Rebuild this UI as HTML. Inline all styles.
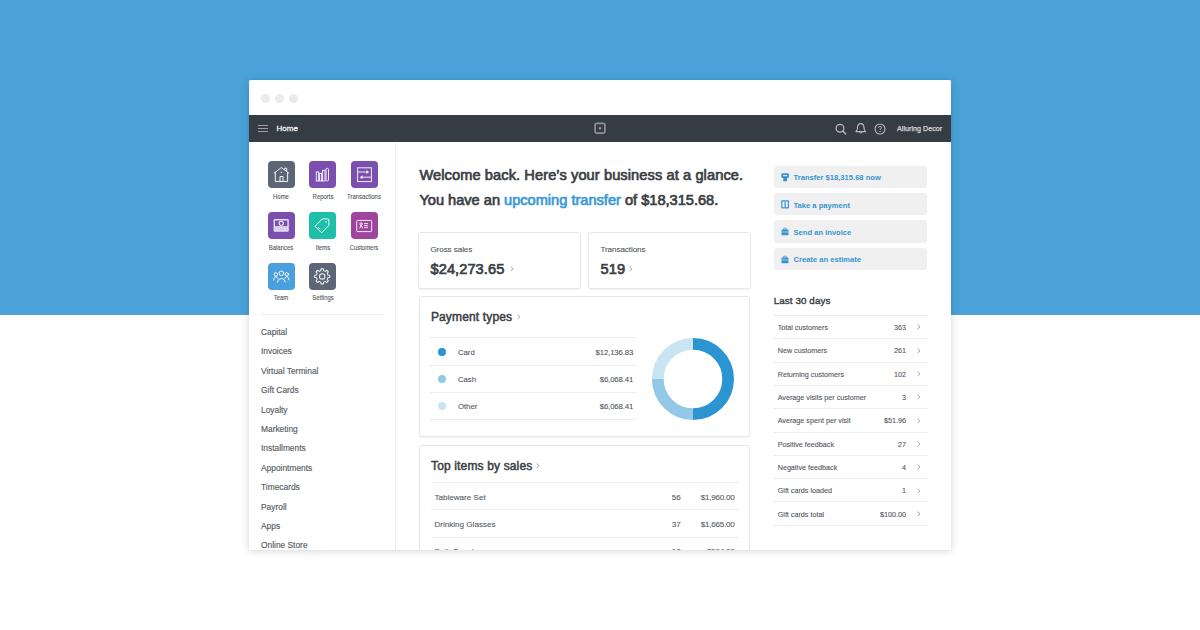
<!DOCTYPE html>
<html><head><meta charset="utf-8">
<style>
*{margin:0;padding:0;box-sizing:border-box}
html,body{width:1200px;height:630px;overflow:hidden;background:#fff;font-family:"Liberation Sans",sans-serif}
.bg{position:absolute;left:0;top:0;width:1200px;height:315px;background:#4aa2d8}
.win{position:absolute;left:249px;top:80px;width:702px;height:470px;background:#fff;overflow:hidden;border-radius:1.5px 1.5px 0 0;box-shadow:0 1px 8px rgba(0,0,0,.16),0 0 1.5px rgba(0,0,0,.06)}
.a{position:absolute;white-space:nowrap}
.dot{position:absolute;top:13.6px;width:9px;height:9px;border-radius:50%;background:#eaebed}
.nav{position:absolute;left:0;top:35px;width:702px;height:27px;background:#363c44}
.tile{position:absolute;width:27px;height:27px;border-radius:4px}
.tile svg{position:absolute;left:0;top:0}
.tl{position:absolute;width:50px;text-align:center;font-size:6.6px;color:#52575e;line-height:1;white-space:nowrap;-webkit-text-stroke:.1px #52575e;transform:scaleX(.9)}
.sl{position:absolute;font-size:8.4px;color:#575c63;line-height:1;white-space:nowrap;-webkit-text-stroke:.15px #575c63}
.h1{font-size:14.6px;font-weight:400;color:#3b3f46;line-height:1;-webkit-text-stroke:.7px #3b3f46;letter-spacing:0px}
.h2{font-size:12px;font-weight:400;color:#3b3f46;line-height:1;-webkit-text-stroke:.5px #3b3f46;letter-spacing:.15px}
.h3{font-size:9.8px;font-weight:400;color:#3b3f46;line-height:1;-webkit-text-stroke:.4px #3b3f46;letter-spacing:.1px}
.card{position:absolute;border:1px solid #e7e7e7;border-radius:3px;background:#fff;box-shadow:0 1px 1.5px rgba(0,0,0,.05)}
.lab{font-size:8.1px;color:#50555c;line-height:1;letter-spacing:-.08px;-webkit-text-stroke:.1px #50555c}
.big{font-size:14.6px;font-weight:400;color:#3b3f46;line-height:1;letter-spacing:.08px;-webkit-text-stroke:.7px #3b3f46}
.hl{position:absolute;height:1px;background:#ececec}
.pt{font-size:7.8px;color:#52575e;line-height:1;-webkit-text-stroke:.1px #52575e}
.it{font-size:8.1px;color:#555a61;line-height:1;-webkit-text-stroke:.1px #555a61}
.btn{position:absolute;width:153px;height:22.4px;background:#f0f0f0;border-radius:3px}
.bt{position:absolute;left:19.5px;font-size:7.6px;font-weight:700;color:#3595d2;line-height:1;white-space:nowrap}
.rl{font-size:7.2px;color:#52565c;line-height:1;-webkit-text-stroke:.1px #52565c}

</style></head><body>
<div class="bg"></div>
<div class="win">
<div class="dot" style="left:12px"></div><div class="dot" style="left:26px"></div><div class="dot" style="left:40px"></div>
<div class="nav">
<div class="a" style="left:9px;top:10px;width:10px;height:1px;background:#9ba0a7"></div>
<div class="a" style="left:9px;top:13px;width:10px;height:1px;background:#9ba0a7"></div>
<div class="a" style="left:9px;top:16px;width:10px;height:1px;background:#9ba0a7"></div>
<div class="a" style="left:27.6px;top:10.1px;font-size:8px;font-weight:400;color:#f2f3f4;line-height:1;-webkit-text-stroke:.3px #f2f3f4">Home</div>
<svg class="a" style="left:345px;top:7px" width="13" height="13" viewBox="0 0 13 13"><rect x="1.1" y="1.35" width="9.8" height="9.8" rx="1.9" fill="none" stroke="#8d9299" stroke-width="1.7"/><rect x="4.8" y="5.05" width="2.4" height="2.4" fill="#8d9299"/></svg>
<svg class="a" style="left:584px;top:7px" width="14" height="14" viewBox="0 0 14 14"><circle cx="7" cy="6.2" r="3.9" fill="none" stroke="#b9bdc2" stroke-width="1.2"/><path d="M9.8 9.1 L12.7 12" stroke="#b9bdc2" stroke-width="1.4" stroke-linecap="round"/></svg>
<svg class="a" style="left:604px;top:7px" width="16" height="14" viewBox="0 0 16 14"><path d="M2.9 9.6 C4 8.6 4.5 7.6 4.5 5.8 C4.5 3.2 5.9 1.6 7.75 1.6 C9.6 1.6 11 3.2 11 5.8 C11 7.6 11.5 8.6 12.6 9.6 Z" fill="none" stroke="#b9bdc2" stroke-width="1.1" stroke-linejoin="round"/><path d="M6.5 10.4 Q7.75 11.8 9 10.4" fill="none" stroke="#b9bdc2" stroke-width="1"/></svg>
<svg class="a" style="left:624px;top:6.5px" width="14" height="14" viewBox="0 0 14 14"><circle cx="7" cy="7" r="5" fill="none" stroke="#b9bdc2" stroke-width="1.1"/><path d="M5.5 5.8 C5.5 4.9 6.2 4.4 7 4.4 C7.8 4.4 8.5 4.9 8.5 5.7 C8.5 6.6 7.1 6.8 7.1 7.9" fill="none" stroke="#b9bdc2" stroke-width="1"/><circle cx="7.05" cy="9.4" r=".6" fill="#b9bdc2"/></svg>
<div class="a" style="left:648px;top:9.9px;font-size:7.2px;color:#d6d9dc;line-height:1;-webkit-text-stroke:.25px #d6d9dc">Alluring Decor</div>
</div>

<div class="tile" style="left:18.8px;top:81.3px;background:#5c6677"><svg width="27" height="27" viewBox="0 0 27 27"><g fill="none" stroke="#fff" stroke-opacity=".92" stroke-width="1" stroke-linejoin="round" stroke-linecap="round"><path d="M6.2 12.1 L13.4 6.5 L20.7 12.1"/><path d="M7.3 11.3 V20.5 H19.6 V11.3"/><path d="M12 20.5 V15.5 H15 V20.5"/><path d="M16.8 8.3 V7.2 H18.6 V9.7"/></g><rect x="12.75" y="10.7" width="1.3" height="1.3" fill="#fff" fill-opacity=".9"/></svg></div><div class="tl" style="left:7.3px;top:114.01px">Home</div><div class="tile" style="left:60.1px;top:81.3px;background:#7a4fae"><svg width="27" height="27" viewBox="0 0 27 27"><g fill="none" stroke="#fff" stroke-opacity=".92" stroke-width=".95"><rect x="7.3" y="10.9" width="2.3" height="9.1"/><rect x="10.6" y="12.3" width="2" height="7.7"/><rect x="13.6" y="9.3" width="2.4" height="10.7"/><rect x="17" y="7.3" width="2.5" height="12.7" rx="1.2"/></g></svg></div><div class="tl" style="left:48.6px;top:114.01px">Reports</div><div class="tile" style="left:101.8px;top:81.3px;background:#7a4fae"><svg width="27" height="27" viewBox="0 0 27 27"><g fill="none" stroke="#fff" stroke-opacity=".9" stroke-width="1"><rect x="6.6" y="6.8" width="13.8" height="13.8"/><path d="M7.1 11 H16"/><path d="M19.9 16.2 H11"/></g><path d="M15.5 9 L18.2 11 L15.5 13 Z M11.5 14.2 L8.8 16.2 L11.5 18.2 Z" fill="#fff" fill-opacity=".9"/></svg></div><div class="tl" style="left:90.3px;top:114.01px">Transactions</div><div class="tile" style="left:18.8px;top:132.2px;background:#7a4fae"><svg width="27" height="27" viewBox="0 0 27 27"><rect x="5.6" y="7" width="15.2" height="12.8" rx="1.3" fill="#fff" fill-opacity=".82"/><rect x="7" y="8.5" width="12.4" height="5.7" fill="#7a4fae"/><circle cx="13.2" cy="11.35" r="2.1" fill="none" stroke="#fff" stroke-opacity=".9" stroke-width="1.1"/><path d="M7 15.9 H19.4 M7 17.7 H19.4" stroke="#7a4fae" stroke-opacity=".45" stroke-width=".7" stroke-dasharray="1 .6"/></svg></div><div class="tl" style="left:7.3px;top:165.01px">Balances</div><div class="tile" style="left:60.1px;top:132.2px;background:#1dbfa9"><svg width="27" height="27" viewBox="0 0 27 27"><g fill="none" stroke="#fff" stroke-opacity=".92" stroke-width="1" stroke-linejoin="round"><path d="M6 14.2 L13.3 6.9 L18.8 6.9 Q19.9 6.9 19.9 8 L19.9 13.5 L12.6 20.8 Z"/><path d="M9.1 15.3 L11.2 17.1"/></g><circle cx="17" cy="9.9" r=".75" fill="#fff"/></svg></div><div class="tl" style="left:48.6px;top:165.01px">Items</div><div class="tile" style="left:101.8px;top:132.2px;background:#9f459e"><svg width="27" height="27" viewBox="0 0 27 27"><g fill="none" stroke="#fff" stroke-opacity=".9" stroke-width="1"><rect x="5.7" y="8.4" width="15" height="11.2" rx=".9"/><circle cx="10.1" cy="12" r="1.2"/><path d="M8.5 16.4 L10.1 13.3 L11.7 16.4"/><path d="M13.2 11.6 H16.9 M13.2 13.5 H16.9 M13.2 15.4 H16.9"/></g></svg></div><div class="tl" style="left:90.3px;top:165.01px">Customers</div><div class="tile" style="left:18.8px;top:183.0px;background:#4aa0dc"><svg width="27" height="27" viewBox="0 0 27 27"><g fill="none" stroke="#fff" stroke-opacity=".92" stroke-width="1" stroke-linecap="round" stroke-linejoin="round"><circle cx="13.4" cy="10.3" r="2.3"/><path d="M9.6 19.1 C9.8 16.8 11.3 15.6 13.4 15.6 C15.5 15.6 17 16.8 17.2 19.1"/><circle cx="7.9" cy="11.4" r="1.7"/><path d="M5.7 17 C6 15 6.8 14 7.9 13.3 C8.6 13.8 9.3 14.5 9.8 15.4"/><circle cx="18.9" cy="11.4" r="1.7"/><path d="M21.1 17 C20.8 15 20 14 18.9 13.3 C18.2 13.8 17.5 14.5 17 15.4"/></g></svg></div><div class="tl" style="left:7.3px;top:215.41px">Team</div><div class="tile" style="left:60.1px;top:183.0px;background:#5c6677"><svg width="27" height="27" viewBox="0 0 27 27"><g fill="none" stroke="#fff" stroke-opacity=".9" stroke-width="1.05" stroke-linejoin="round"><circle cx="13.2" cy="13.4" r="2.7"/><path d="M11.87 7.65 L12.01 5.89 A7.6 7.6 0 0 1 14.39 5.89 L14.53 7.65 A5.9 5.9 0 0 1 16.33 8.40 L16.33 8.40 L17.67 7.25 A7.6 7.6 0 0 1 19.35 8.93 L18.20 10.27 A5.9 5.9 0 0 1 18.95 12.07 L18.95 12.07 L20.71 12.21 A7.6 7.6 0 0 1 20.71 14.59 L18.95 14.73 A5.9 5.9 0 0 1 18.20 16.53 L18.20 16.53 L19.35 17.87 A7.6 7.6 0 0 1 17.67 19.55 L16.33 18.40 A5.9 5.9 0 0 1 14.53 19.15 L14.53 19.15 L14.39 20.91 A7.6 7.6 0 0 1 12.01 20.91 L11.87 19.15 A5.9 5.9 0 0 1 10.07 18.40 L10.07 18.40 L8.73 19.55 A7.6 7.6 0 0 1 7.05 17.87 L8.20 16.53 A5.9 5.9 0 0 1 7.45 14.73 L7.45 14.73 L5.69 14.59 A7.6 7.6 0 0 1 5.69 12.21 L7.45 12.07 A5.9 5.9 0 0 1 8.20 10.27 L8.20 10.27 L7.05 8.93 A7.6 7.6 0 0 1 8.73 7.25 L10.07 8.40 A5.9 5.9 0 0 1 11.87 7.65 Z"/></g></svg></div><div class="tl" style="left:48.6px;top:215.41px">Settings</div><div class="hl" style="left:11.5px;top:233.5px;width:123px;background:#efefef"></div><div class="sl" style="left:12px;top:248.09px">Capital</div><div class="sl" style="left:12px;top:267.48px">Invoices</div><div class="sl" style="left:12px;top:286.87px">Virtual Terminal</div><div class="sl" style="left:12px;top:306.26px">Gift Cards</div><div class="sl" style="left:12px;top:325.65px">Loyalty</div><div class="sl" style="left:12px;top:345.04px">Marketing</div><div class="sl" style="left:12px;top:364.43px">Installments</div><div class="sl" style="left:12px;top:383.82px">Appointments</div><div class="sl" style="left:12px;top:403.21px">Timecards</div><div class="sl" style="left:12px;top:422.6px">Payroll</div><div class="sl" style="left:12px;top:441.99px">Apps</div><div class="sl" style="left:12px;top:461.38px">Online Store</div>
<div class="a" style="left:146px;top:62px;width:1px;height:410px;background:#f1f1f1"></div>
<div class="a h1" style="left:170.4px;top:87.84px;letter-spacing:.1px">Welcome back. Here’s your business at a glance.</div>
<div class="a h1" style="left:170.4px;top:113.24px">You have an <span style="color:#3a9ad6;-webkit-text-stroke-color:#3a9ad6">upcoming transfer</span> of $18,315.68.</div>
<div class="card" style="left:169px;top:152px;width:163px;height:57px"></div>
<div class="card" style="left:339px;top:152px;width:163px;height:57px"></div>
<div class="a lab" style="left:181.4px;top:165.64px">Gross sales</div>
<div class="a big" style="left:181.5px;top:181.74px">$24,273.65</div>
<svg class="a" style="left:261.2px;top:186.1px" width="3.8" height="5.6" viewBox="0 0 3.8 5.6"><path d="M.6 .6 L3.2 2.8 L.6 5.0" fill="none" stroke="#9a9ea4" stroke-width="0.9"/></svg>
<div class="a lab" style="left:351.4px;top:165.64px">Transactions</div>
<div class="a big" style="left:351.5px;top:181.74px">519</div>
<svg class="a" style="left:379.7px;top:186.1px" width="3.8" height="5.6" viewBox="0 0 3.8 5.6"><path d="M.6 .6 L3.2 2.8 L.6 5.0" fill="none" stroke="#9a9ea4" stroke-width="0.9"/></svg>
<div class="card" style="left:169.5px;top:215.9px;width:331.6px;height:141.2px"></div>
<div class="a h2" style="left:181.9px;top:231.14px">Payment types</div>
<svg class="a" style="left:267.7px;top:234.3px" width="3.7" height="5.5" viewBox="0 0 3.7 5.5"><path d="M.6 .6 L3.1 2.75 L.6 4.9" fill="none" stroke="#9a9ea4" stroke-width="0.9"/></svg>
<div class="hl" style="left:181.2px;top:257.3px;width:207px"></div>
<div class="hl" style="left:181.2px;top:284.7px;width:207px"></div>
<div class="hl" style="left:181.2px;top:312.0px;width:207px"></div>
<div class="hl" style="left:181.2px;top:339.3px;width:207px"></div>
<div class="a" style="left:188.8px;top:267.5px;width:8.2px;height:8.2px;border-radius:50%;background:#2b94d1"></div>
<div class="a pt" style="left:208.9px;top:268.5px">Card</div>
<div class="a pt" style="left:304.1px;width:80px;text-align:right;letter-spacing:-.15px;top:268.5px">$12,136.83</div>
<div class="a" style="left:188.8px;top:294.8px;width:8.2px;height:8.2px;border-radius:50%;background:#93c9e7"></div>
<div class="a pt" style="left:208.9px;top:295.8px">Cash</div>
<div class="a pt" style="left:304.1px;width:80px;text-align:right;letter-spacing:-.15px;top:295.8px">$6,068.41</div>
<div class="a" style="left:188.8px;top:322.1px;width:8.2px;height:8.2px;border-radius:50%;background:#c9e4f3"></div>
<div class="a pt" style="left:208.9px;top:323.1px">Other</div>
<div class="a pt" style="left:304.1px;width:80px;text-align:right;letter-spacing:-.15px;top:323.1px">$6,068.41</div>
<svg class="a" style="left:399.4px;top:253.6px" width="90" height="90" viewBox="0 0 90 90"><path d="M45.000 9.850 A35.15 35.15 0 0 1 45.000 80.150" fill="none" stroke="#2b94d1" stroke-width="11.70"/><path d="M45.000 80.150 A35.15 35.15 0 0 1 9.850 45.000" fill="none" stroke="#93c9e7" stroke-width="11.70"/><path d="M9.850 45.000 A35.15 35.15 0 0 1 45.000 9.850" fill="none" stroke="#c9e4f3" stroke-width="11.70"/></svg>
<div class="card" style="left:169.5px;top:364.5px;width:331.6px;height:140px"></div>
<div class="a h2" style="left:182px;top:380.24px">Top items by sales</div>
<svg class="a" style="left:287.0px;top:383.0px" width="3.7" height="5.5" viewBox="0 0 3.7 5.5"><path d="M.6 .6 L3.1 2.75 L.6 4.9" fill="none" stroke="#9a9ea4" stroke-width="0.9"/></svg>
<div class="hl" style="left:181.5px;top:402.3px;width:308px"></div>
<div class="hl" style="left:181.5px;top:429.4px;width:308px"></div>
<div class="hl" style="left:181.5px;top:456.9px;width:308px"></div>
<div class="a it" style="left:185.4px;top:414.04px">Tableware Set</div>
<div class="a it" style="left:391.8px;width:40px;text-align:right;top:414.04px">56</div>
<div class="a it" style="left:405.5px;width:80px;text-align:right;letter-spacing:-.25px;top:414.04px">$1,960.00</div>
<div class="a it" style="left:185.4px;top:441.24px">Drinking Glasses</div>
<div class="a it" style="left:391.8px;width:40px;text-align:right;top:441.24px">37</div>
<div class="a it" style="left:405.5px;width:80px;text-align:right;letter-spacing:-.25px;top:441.24px">$1,665.00</div>
<div class="a it" style="left:185.4px;top:468.44px">Bath Towels</div>
<div class="a it" style="left:391.8px;width:40px;text-align:right;top:468.44px">18</div>
<div class="a it" style="left:405.5px;width:80px;text-align:right;letter-spacing:-.25px;top:468.44px">$594.00</div>
<div class="btn" style="left:525px;top:85.6px"><svg class="a" style="left:6px;top:6px" width="10" height="10" viewBox="0 0 10 10"><g fill="#3595d2"><rect x="1.4" y="1.3" width="7.5" height="4.8" rx="1"/><rect x="3.3" y="5.5" width="3.7" height="3.8" rx=".5"/></g><rect x="3.2" y="3.1" width="3.9" height="1.1" fill="#f0f0f0"/></svg><div class="bt" style="top:8.67px">Transfer $18,315.68 now</div></div>
<div class="btn" style="left:525px;top:112.95px"><svg class="a" style="left:6px;top:6px" width="10" height="10" viewBox="0 0 10 10"><rect x="1.2" y="1.3" width="7.8" height="8.1" rx="1" fill="#3595d2"/><rect x="2.4" y="2.5" width="5.4" height="5.7" fill="#f0f0f0"/><rect x="4.5" y="2.5" width="1.2" height="5.7" fill="#3595d2"/></svg><div class="bt" style="top:8.67px">Take a payment</div></div>
<div class="btn" style="left:525px;top:140.3px"><svg class="a" style="left:6px;top:6px" width="10" height="10" viewBox="0 0 10 10"><g fill="#3595d2"><rect x="1.5" y="3.4" width="7" height="5.8" rx=".6"/><rect x="3.5" y="1.7" width="3" height="2.2" rx=".5"/></g><path d="M1.5 6 H8.5" stroke="#f0f0f0" stroke-width=".6"/><rect x="4.1" y="2.5" width="1.8" height=".9" fill="#f0f0f0"/></svg><div class="bt" style="top:8.67px">Send an invoice</div></div>
<div class="btn" style="left:525px;top:167.65px"><svg class="a" style="left:6px;top:6px" width="10" height="10" viewBox="0 0 10 10"><g fill="#3595d2"><rect x="1.5" y="3.4" width="7" height="5.8" rx=".6"/><rect x="3.5" y="1.7" width="3" height="2.2" rx=".5"/></g><path d="M1.5 6 H8.5" stroke="#f0f0f0" stroke-width=".6"/><rect x="4.1" y="2.5" width="1.8" height=".9" fill="#f0f0f0"/></svg><div class="bt" style="top:8.67px">Create an estimate</div></div>
<div class="a h3" style="left:524.7px;top:216.2px">Last 30 days</div>
<div class="hl" style="left:524px;top:235.1px;width:154.8px"></div>
<div class="hl" style="left:524px;top:258.38px;width:154.8px"></div>
<div class="hl" style="left:524px;top:281.66px;width:154.8px"></div>
<div class="hl" style="left:524px;top:304.94px;width:154.8px"></div>
<div class="hl" style="left:524px;top:328.22px;width:154.8px"></div>
<div class="hl" style="left:524px;top:351.5px;width:154.8px"></div>
<div class="hl" style="left:524px;top:374.78px;width:154.8px"></div>
<div class="hl" style="left:524px;top:398.06px;width:154.8px"></div>
<div class="hl" style="left:524px;top:421.34px;width:154.8px"></div>
<div class="hl" style="left:524px;top:444.62px;width:154.8px"></div>
<div class="a rl" style="left:528.7px;top:243.91px">Total customers</div>
<div class="a rl" style="left:596.9px;width:60px;text-align:right;top:243.91px">363</div>
<svg class="a" style="left:667.6px;top:244.3px" width="3.8" height="5.7" viewBox="0 0 3.8 5.7"><path d="M.6 .6 L3.2 2.85 L.6 5.1" fill="none" stroke="#8d9197" stroke-width="0.8"/></svg>
<div class="a rl" style="left:528.7px;top:267.24px">New customers</div>
<div class="a rl" style="left:596.9px;width:60px;text-align:right;top:267.24px">261</div>
<svg class="a" style="left:667.6px;top:267.63px" width="3.8" height="5.7" viewBox="0 0 3.8 5.7"><path d="M.6 .6 L3.2 2.85 L.6 5.1" fill="none" stroke="#8d9197" stroke-width="0.8"/></svg>
<div class="a rl" style="left:528.7px;top:290.57px">Returning customers</div>
<div class="a rl" style="left:596.9px;width:60px;text-align:right;top:290.57px">102</div>
<svg class="a" style="left:667.6px;top:290.96px" width="3.8" height="5.7" viewBox="0 0 3.8 5.7"><path d="M.6 .6 L3.2 2.85 L.6 5.1" fill="none" stroke="#8d9197" stroke-width="0.8"/></svg>
<div class="a rl" style="left:528.7px;top:313.9px">Average visits per customer</div>
<div class="a rl" style="left:596.9px;width:60px;text-align:right;top:313.9px">3</div>
<svg class="a" style="left:667.6px;top:314.29px" width="3.8" height="5.7" viewBox="0 0 3.8 5.7"><path d="M.6 .6 L3.2 2.85 L.6 5.1" fill="none" stroke="#8d9197" stroke-width="0.8"/></svg>
<div class="a rl" style="left:528.7px;top:337.23px">Average spent per visit</div>
<div class="a rl" style="left:596.9px;width:60px;text-align:right;top:337.23px">$51.96</div>
<svg class="a" style="left:667.6px;top:337.62px" width="3.8" height="5.7" viewBox="0 0 3.8 5.7"><path d="M.6 .6 L3.2 2.85 L.6 5.1" fill="none" stroke="#8d9197" stroke-width="0.8"/></svg>
<div class="a rl" style="left:528.7px;top:360.56px">Positive feedback</div>
<div class="a rl" style="left:596.9px;width:60px;text-align:right;top:360.56px">27</div>
<svg class="a" style="left:667.6px;top:360.95px" width="3.8" height="5.7" viewBox="0 0 3.8 5.7"><path d="M.6 .6 L3.2 2.85 L.6 5.1" fill="none" stroke="#8d9197" stroke-width="0.8"/></svg>
<div class="a rl" style="left:528.7px;top:383.89px">Negative feedback</div>
<div class="a rl" style="left:596.9px;width:60px;text-align:right;top:383.89px">4</div>
<svg class="a" style="left:667.6px;top:384.28px" width="3.8" height="5.7" viewBox="0 0 3.8 5.7"><path d="M.6 .6 L3.2 2.85 L.6 5.1" fill="none" stroke="#8d9197" stroke-width="0.8"/></svg>
<div class="a rl" style="left:528.7px;top:407.22px">Gift cards loaded</div>
<div class="a rl" style="left:596.9px;width:60px;text-align:right;top:407.22px">1</div>
<svg class="a" style="left:667.6px;top:407.61px" width="3.8" height="5.7" viewBox="0 0 3.8 5.7"><path d="M.6 .6 L3.2 2.85 L.6 5.1" fill="none" stroke="#8d9197" stroke-width="0.8"/></svg>
<div class="a rl" style="left:528.7px;top:430.55px">Gift cards total</div>
<div class="a rl" style="left:596.9px;width:60px;text-align:right;top:430.55px">$100.00</div>
<svg class="a" style="left:667.6px;top:430.94px" width="3.8" height="5.7" viewBox="0 0 3.8 5.7"><path d="M.6 .6 L3.2 2.85 L.6 5.1" fill="none" stroke="#8d9197" stroke-width="0.8"/></svg>
</div>
</body></html>
